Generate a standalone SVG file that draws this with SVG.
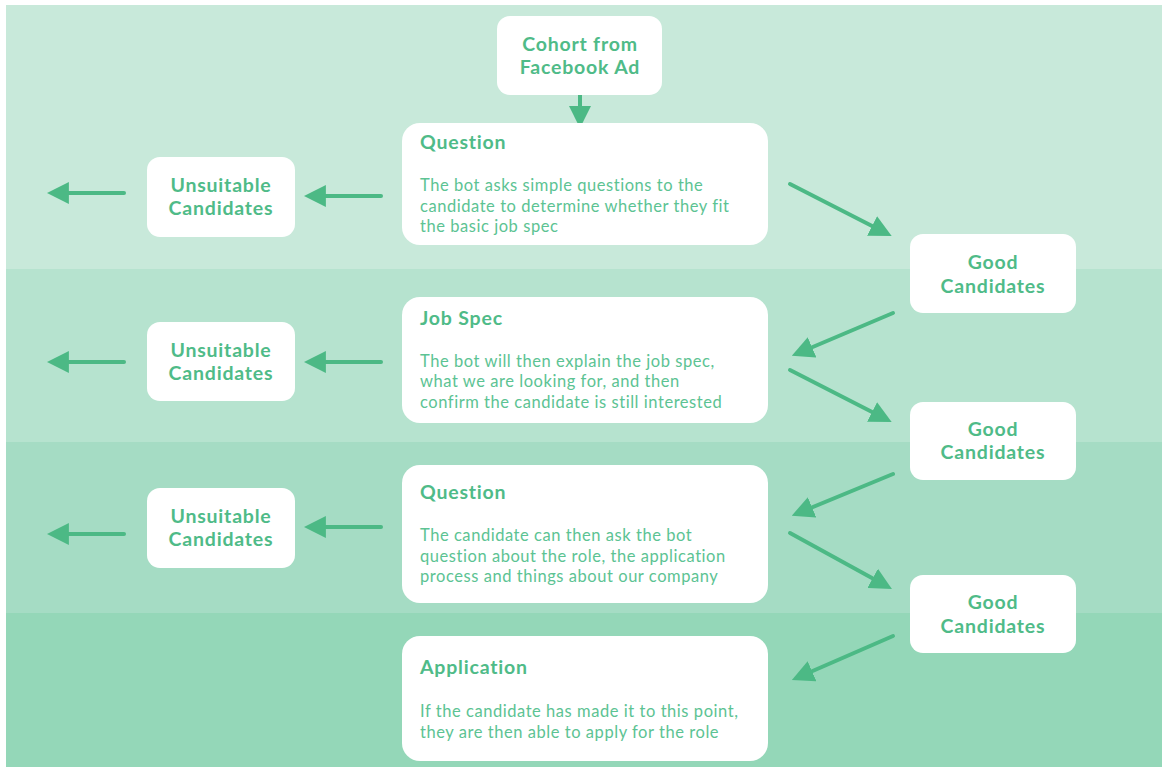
<svg xmlns="http://www.w3.org/2000/svg" width="1162" height="767" viewBox="0 0 1162 767">
<defs>
<style>
.box{fill:#ffffff}
.t{font-family:Lato,"Open Sans",sans-serif;font-weight:bold;font-size:19.5px;letter-spacing:0.8px;fill:#4fbb88}
.c{text-anchor:middle}
.b{font-family:Lato,"Open Sans",sans-serif;font-size:16.5px;letter-spacing:0.55px;fill:#5cc393}
.ln{stroke:#4cb985;stroke-width:4;stroke-linecap:round;fill:none;marker-end:url(#ah)}
</style>
<marker id="ah" viewBox="0 0 10 10" refX="2" refY="5" markerWidth="5.5" markerHeight="5.5" orient="auto" markerUnits="strokeWidth">
<path d="M0,0 L10,5 L0,10 Z" fill="#4cb985"/>
</marker>
</defs>
<rect x="0" y="0" width="1162" height="767" fill="#ffffff"/>
<g id="bands">
<rect x="6" y="5" width="1156" height="264" fill="#c8e9da"/>
<rect x="6" y="269" width="1156" height="173" fill="#b6e3cf"/>
<rect x="6" y="442" width="1156" height="171" fill="#a5dcc4"/>
<rect x="6" y="613" width="1156" height="154" fill="#94d7b8"/>
</g>
<g id="connectors">
<line class="ln" x1="580" y1="95" x2="580" y2="110.5"/>
<line class="ln" x1="381" y1="196" x2="321.5" y2="196"/>
<line class="ln" x1="124" y1="193" x2="64.5" y2="193"/>
<line class="ln" x1="381" y1="362" x2="321.5" y2="362"/>
<line class="ln" x1="124" y1="362" x2="64.5" y2="362"/>
<line class="ln" x1="381" y1="527" x2="321.5" y2="527"/>
<line class="ln" x1="124" y1="534" x2="64.5" y2="534"/>
<line class="ln" x1="790" y1="184" x2="876" y2="228"/>
<line class="ln" x1="893" y1="313" x2="808" y2="349"/>
<line class="ln" x1="790" y1="370" x2="876" y2="414"/>
<line class="ln" x1="893" y1="474" x2="808" y2="509"/>
<line class="ln" x1="790" y1="533" x2="876.5" y2="580.5"/>
<line class="ln" x1="893" y1="636" x2="808" y2="673"/>
</g>
<g id="cohort">
<rect class="box" x="497" y="16" width="165" height="79" rx="13"/>
<text class="t c" x="580" y="51">Cohort from</text>
<text class="t c" x="580" y="74">Facebook Ad</text>
</g>
<g id="question1">
<rect class="box" x="402" y="123" width="366" height="122" rx="18"/>
<text class="t" x="420" y="149">Question</text>
<text class="b" x="420" y="191">The bot asks simple questions to the</text>
<text class="b" x="420" y="212">candidate to determine whether they fit</text>
<text class="b" x="420" y="232">the basic job spec</text>
</g>
<g id="unsuitable1">
<rect class="box" x="147" y="157" width="148" height="80" rx="13"/>
<text class="t c" x="221" y="192">Unsuitable</text>
<text class="t c" x="221" y="215">Candidates</text>
</g>
<g id="good1">
<rect class="box" x="910" y="234" width="166" height="79" rx="13"/>
<text class="t c" x="993" y="269">Good</text>
<text class="t c" x="993" y="293">Candidates</text>
</g>
<g id="jobspec">
<rect class="box" x="402" y="297" width="366" height="126" rx="18"/>
<text class="t" x="420" y="325">Job Spec</text>
<text class="b" x="420" y="367">The bot will then explain the job spec,</text>
<text class="b" x="420" y="387">what we are looking for, and then</text>
<text class="b" x="420" y="408">confirm the candidate is still interested</text>
</g>
<g id="unsuitable2">
<rect class="box" x="147" y="322" width="148" height="79" rx="13"/>
<text class="t c" x="221" y="357">Unsuitable</text>
<text class="t c" x="221" y="380">Candidates</text>
</g>
<g id="good2">
<rect class="box" x="910" y="402" width="166" height="78" rx="13"/>
<text class="t c" x="993" y="436">Good</text>
<text class="t c" x="993" y="459">Candidates</text>
</g>
<g id="question2">
<rect class="box" x="402" y="465" width="366" height="138" rx="18"/>
<text class="t" x="420" y="499">Question</text>
<text class="b" x="420" y="541">The candidate can then ask the bot</text>
<text class="b" x="420" y="562">question about the role, the application</text>
<text class="b" x="420" y="582">process and things about our company</text>
</g>
<g id="unsuitable3">
<rect class="box" x="147" y="488" width="148" height="80" rx="13"/>
<text class="t c" x="221" y="523">Unsuitable</text>
<text class="t c" x="221" y="546">Candidates</text>
</g>
<g id="good3">
<rect class="box" x="910" y="575" width="166" height="78" rx="13"/>
<text class="t c" x="993" y="609">Good</text>
<text class="t c" x="993" y="633">Candidates</text>
</g>
<g id="application">
<rect class="box" x="402" y="636" width="366" height="125" rx="18"/>
<text class="t" x="420" y="674">Application</text>
<text class="b" x="420" y="717">If the candidate has made it to this point,</text>
<text class="b" x="420" y="738">they are then able to apply for the role</text>
</g>
</svg>
